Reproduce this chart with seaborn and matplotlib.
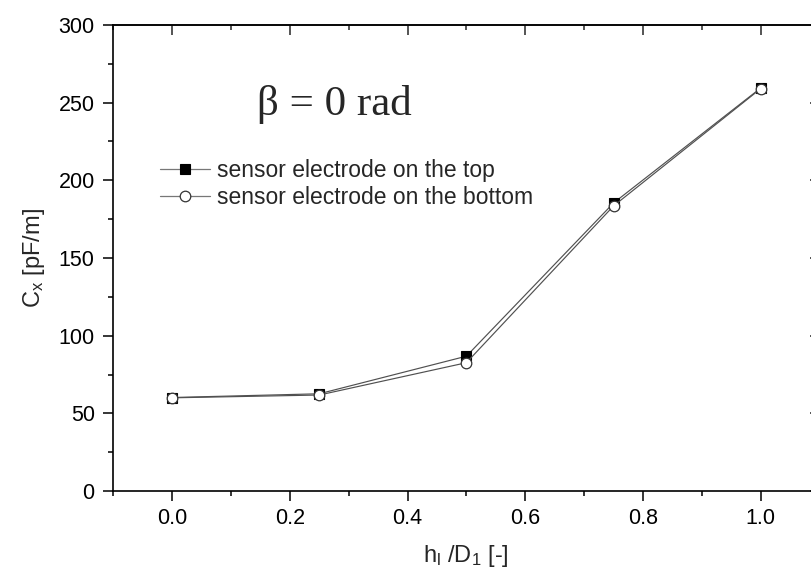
import matplotlib
matplotlib.use("Agg")
import matplotlib.pyplot as plt
from matplotlib.ticker import MultipleLocator
import seaborn as sns
import pandas as pd

# Capacitance per unit length versus relative liquid level
ratio = [0.0, 0.25, 0.5, 0.75, 1.0]
cx_top = [60.2, 62.6, 86.8, 185.4, 259.4]
cx_bottom = [60.0, 61.8, 82.6, 183.5, 259.0]
label_top = "sensor electrode on the top"
label_bottom = "sensor electrode on the bottom"
annotation = "\u03b2 = 0 rad"

df = pd.DataFrame({"ratio": ratio, "top": cx_top, "bottom": cx_bottom})

sns.set_theme(style="ticks")
plt.rcParams["font.family"] = ["Liberation Sans", "DejaVu Sans"]
plt.rcParams["mathtext.default"] = "regular"

fig = plt.figure(figsize=(8.11, 5.77), dpi=100)
ax = fig.add_axes([0.1397, 0.149, 0.8708, 0.8077])

line_col = "#505050"
sns.lineplot(data=df, x="ratio", y="top", ax=ax, color=line_col, linewidth=0.85,
             marker="s", markersize=6.8, markerfacecolor="black",
             markeredgecolor="black", markeredgewidth=0.8, label=label_top)
sns.lineplot(data=df, x="ratio", y="bottom", ax=ax, color=line_col, linewidth=0.85,
             marker="o", markersize=7.6, markerfacecolor="white",
             markeredgecolor="#333333", markeredgewidth=0.9, label=label_bottom)

ax.set_xlim(-0.1, 1.1)
ax.set_ylim(0, 300)
ax.xaxis.set_major_locator(MultipleLocator(0.2))
ax.xaxis.set_minor_locator(MultipleLocator(0.1))
ax.yaxis.set_major_locator(MultipleLocator(50))
ax.yaxis.set_minor_locator(MultipleLocator(25))
ax.set_xticks([0.0, 0.2, 0.4, 0.6, 0.8, 1.0])
ax.set_xticklabels(["0.0", "0.2", "0.4", "0.6", "0.8", "1.0"])

for s in ax.spines.values():
    s.set_linewidth(1.2)
    s.set_color("black")
ax.tick_params(which="major", direction="out", length=7.4, width=1.1,
               labelsize=15.5, pad=5, colors="black")
ax.tick_params(which="minor", direction="out", length=3.8, width=1.1, colors="black")
ax.tick_params(axis="y", which="major", pad=6)

# inward ticks on the opposite spines
top = ax.secondary_xaxis("top")
top.xaxis.set_major_locator(MultipleLocator(0.2))
top.xaxis.set_minor_locator(MultipleLocator(0.1))
top.tick_params(which="major", direction="in", length=7.4, width=1.1, labeltop=False)
top.tick_params(which="minor", direction="in", length=3.8, width=1.1)
top.spines["top"].set_linewidth(1.2)
right = ax.secondary_yaxis("right")
right.yaxis.set_major_locator(MultipleLocator(50))
right.yaxis.set_minor_locator(MultipleLocator(25))
right.tick_params(which="major", direction="in", length=7.4, width=1.1, labelright=False)
right.tick_params(which="minor", direction="in", length=3.8, width=1.1)

ax.set_xlabel("h$_{l}$ /D$_{1}$ [-]", fontsize=17, labelpad=10)
ax.set_ylabel("C$_{x}$ [pF/m]", fontsize=17, labelpad=8)

ax.text(0.1436, 242, annotation, family=["Liberation Serif", "DejaVu Serif"],
        fontsize=31, ha="left", va="baseline")

leg = ax.legend(loc="upper left", bbox_to_anchor=(0.066, 0.712), frameon=False,
                fontsize=16.5, handlelength=2.2, handletextpad=0.3,
                labelspacing=0.16, borderpad=0, borderaxespad=0, numpoints=1)
for h in leg.get_lines():
    h.set_color("#777777")
    h.set_linewidth(0.9)

fig.savefig("out.png", dpi=100)
